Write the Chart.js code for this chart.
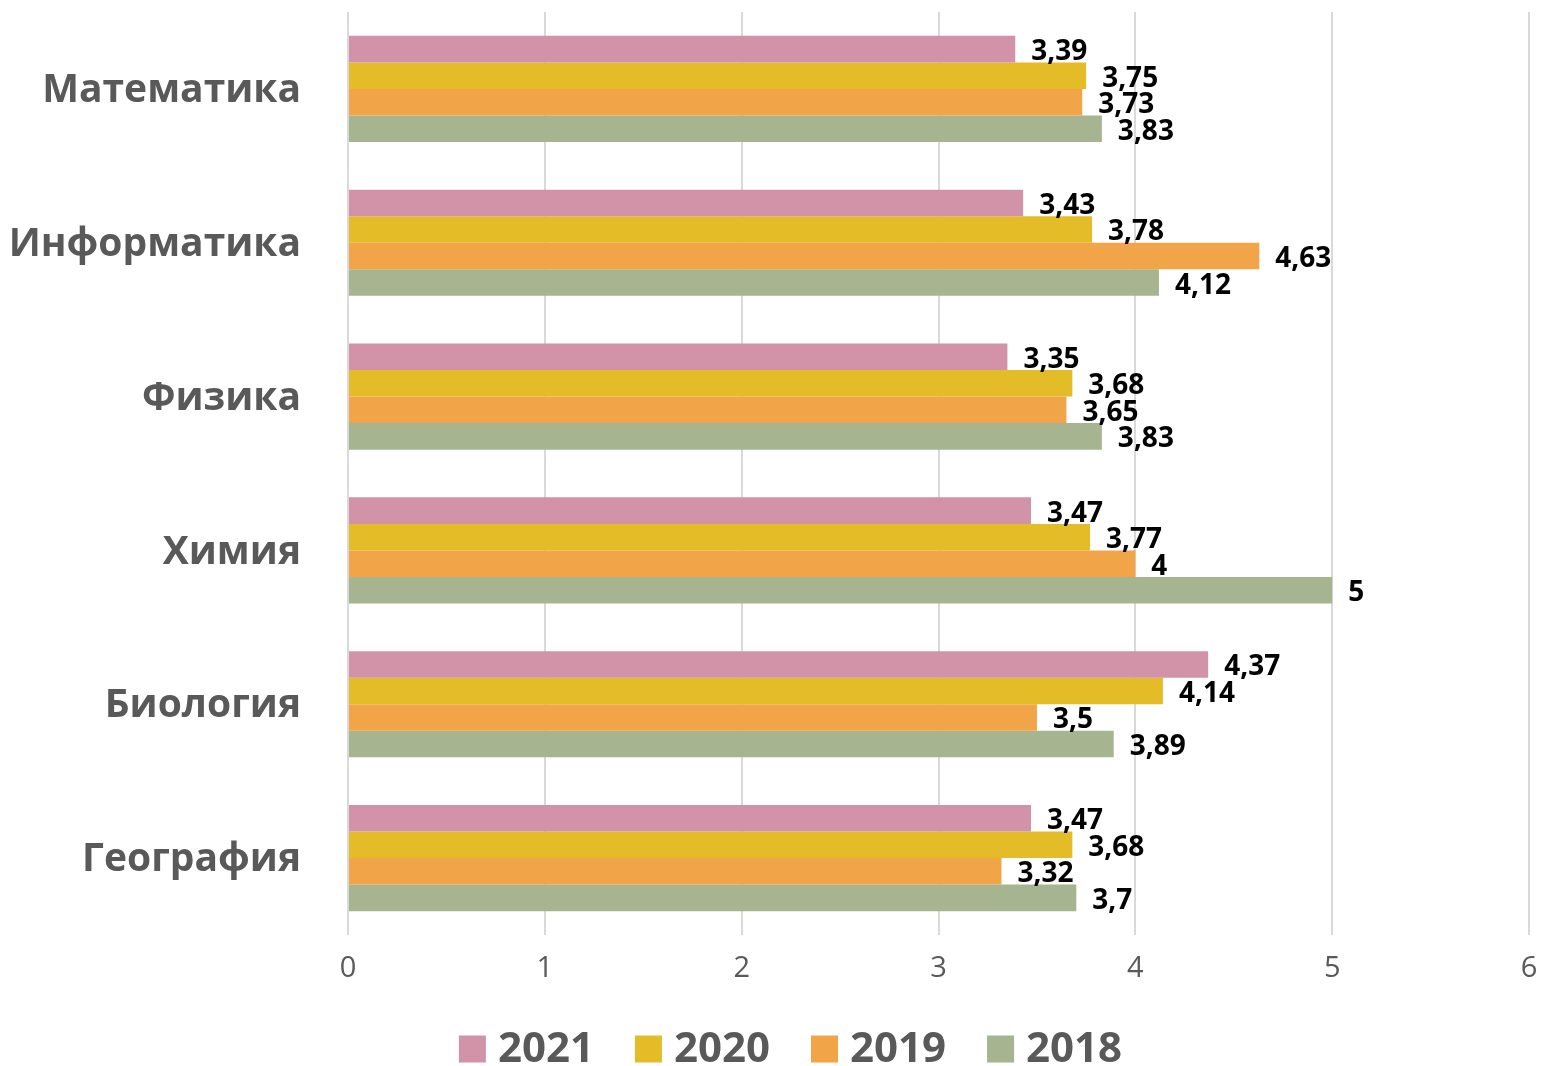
<!DOCTYPE html>
<html>
<head>
<meta charset="utf-8">
<script src="https://cdn.jsdelivr.net/npm/chart.js@4/dist/chart.umd.min.js"></script>
<style>
html,body{margin:0;padding:0;background:#fff;}
#wrap{width:1541px;height:1066px;position:relative;}
</style>
</head>
<body>
<div id="wrap"><canvas id="c" width="1541" height="1066"></canvas></div>
<script>
const categories = ["Математика", "Информатика", "Физика", "Химия", "Биология", "География"];
const seriesNames = ["2021", "2020", "2019", "2018"];
const values2021 = [3.39, 3.43, 3.35, 3.47, 4.37, 3.47];
const values2020 = [3.75, 3.78, 3.68, 3.77, 4.14, 3.68];
const values2019 = [3.73, 4.63, 3.65, 4.00, 3.50, 3.32];
const values2018 = [3.83, 4.12, 3.83, 5.00, 3.89, 3.70];
const xTicks = [0, 1, 2, 3, 4, 5, 6];
const colors = ["#D292A8", "#E4BC28", "#F2A448", "#A6B48F"];

const FONT = "'Open Sans', 'Noto Sans', sans-serif";

const labelPlugin = {
  id: 'valueLabels',
  afterDatasetsDraw(chart) {
    const ctx = chart.ctx;
    ctx.save();
    ctx.font = "bold 28px " + FONT;
    ctx.fillStyle = "#000";
    ctx.textAlign = "left";
    ctx.textBaseline = "middle";
    chart.data.datasets.forEach((ds, di) => {
      const meta = chart.getDatasetMeta(di);
      meta.data.forEach((bar, i) => {
        const v = ds.data[i];
        const txt = String(v).replace('.', ',');
        ctx.fillText(txt, bar.x + 16, bar.y + 3);
      });
    });
    ctx.restore();
  }
};

const legendPlugin = {
  id: 'customLegend',
  afterDraw(chart) {
    const ctx = chart.ctx;
    ctx.save();
    ctx.font = "bold 42px " + FONT;
    ctx.textBaseline = "middle";
    ctx.textAlign = "left";
    const box = 27, gap = 12, spacing = 41;
    const items = chart.data.datasets.map(ds => ({ text: ds.label, color: ds.backgroundColor, w: ctx.measureText(ds.label).width }));
    let total = 0;
    items.forEach((it, i) => { total += box + gap + it.w + (i < items.length - 1 ? spacing : 0); });
    const cx = chart.width / 2 + 20;
    let x = cx - total / 2;
    const cy = chart.height - 17;
    items.forEach(it => {
      ctx.fillStyle = it.color;
      ctx.fillRect(x, cy - box / 2, box, box);
      ctx.fillStyle = '#595959';
      ctx.fillText(it.text, x + box + gap, cy + 1);
      x += box + gap + it.w + spacing;
    });
    ctx.restore();
  }
};

const allSeries = [values2021, values2020, values2019, values2018];

new Chart(document.getElementById('c'), {
  type: 'bar',
  data: {
    labels: categories,
    datasets: seriesNames.map((n, k) => ({
      label: n,
      data: allSeries[k],
      backgroundColor: colors[k],
      borderWidth: 0,
      categoryPercentage: 0.69,
      barPercentage: 1.0
    }))
  },
  options: {
    indexAxis: 'y',
    responsive: false,
    animation: false,
    layout: { padding: { left: 0, right: 12, top: 12, bottom: 56 } },
    plugins: {
      legend: { display: false },
      tooltip: { enabled: false }
    },
    scales: {
      x: {
        min: 0, max: 6,
        afterBuildTicks(scale) { scale.ticks = xTicks.map(v => ({ value: v })); },
        ticks: {
          font: { family: FONT, size: 29 },
          color: '#595959',
          padding: 16,
          maxRotation: 0
        },
        grid: { color: '#d9d9d9', lineWidth: 2, drawTicks: false },
        border: { display: false },
        afterFit(scale) { scale.height = 75; scale.paddingLeft = 0; scale.paddingRight = 0; }
      },
      y: {
        ticks: {
          font: { family: FONT, size: 39, weight: 'bold' },
          color: '#595959',
          padding: 47,
          labelOffset: 2
        },
        grid: { display: false, drawTicks: false },
        border: { display: false },
        afterFit(scale) { scale.width = 348; scale.paddingTop = 0; scale.paddingBottom = 0; }
      }
    }
  },
  plugins: [labelPlugin, legendPlugin]
});
</script>
</body>
</html>
